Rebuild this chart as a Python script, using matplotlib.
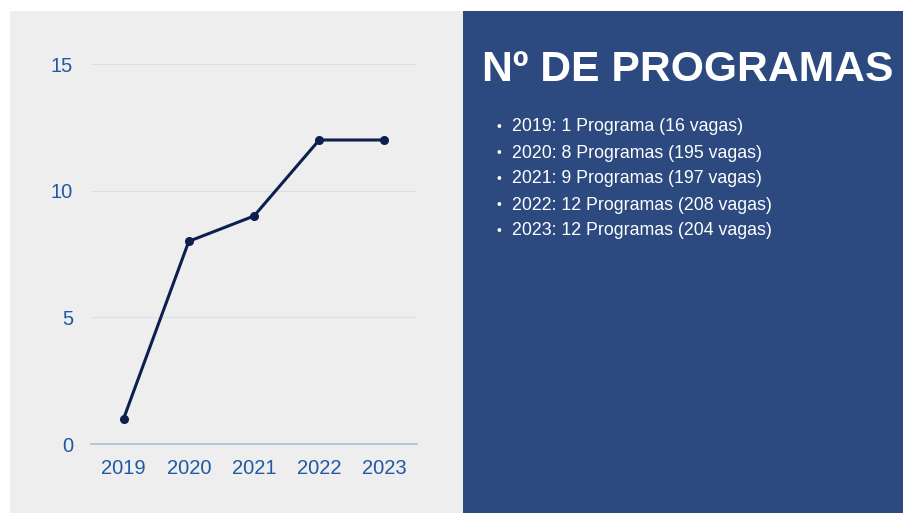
import matplotlib.pyplot as plt
from matplotlib.patches import Rectangle

plt.rcParams['font.family'] = ['Liberation Sans', 'DejaVu Sans']

years = ["2019", "2020", "2021", "2022", "2023"]
programas = [1, 8, 9, 12, 12]
vagas = [16, 195, 197, 208, 204]
y_ticks = [0, 5, 10, 15]

title = "Nº DE PROGRAMAS"

GRAY = "#eeeeee"
BLUE_BG = "#2c4a80"
LINE = "#0c1f4e"
TICK = "#1f58a3"

W, H = 904, 513

fig = plt.figure(figsize=(W / 100, H / 100), dpi=100)
fig.patch.set_facecolor("white")

# panels (behind the axes)
fig.patches.append(Rectangle((10 / W, 0), (463 - 10) / W, (H - 11) / H,
                             transform=fig.transFigure, facecolor=GRAY,
                             edgecolor="none", zorder=-10))
fig.patches.append(Rectangle((463 / W, 0), (903 - 463) / W, (H - 11) / H,
                             transform=fig.transFigure, facecolor=BLUE_BG,
                             edgecolor="none", zorder=-10))

ax = fig.add_axes([91 / W, (H - 444) / H, 326 / W, 380 / H])
ax.set_facecolor("none")

x = list(range(len(years)))
ax.plot(x, programas, color=LINE, linewidth=2.2, marker="o",
        markersize=5.5, zorder=3)

ax.set_xlim(-0.5, len(years) - 0.5)
ax.set_ylim(0, 15)
ax.set_xticks(x)
ax.set_xticklabels(years)
ax.set_yticks(y_ticks)

ax.tick_params(axis="both", length=0, colors=TICK, labelsize=14.5)
ax.tick_params(axis="x", pad=11)
ax.tick_params(axis="y", pad=13)

for s in ["top", "right", "left"]:
    ax.spines[s].set_visible(False)
ax.spines["bottom"].set_color("#a9bedb")
ax.spines["bottom"].set_linewidth(1.2)

ax.yaxis.grid(True, color="#d8e0ec", linewidth=0.8)
ax.set_axisbelow(True)

# right panel text
fig.text(482 / W, 1 - 70 / H, title, color="white", fontsize=30.7,
         fontweight="bold", va="center", ha="left")

line_y = [127, 153, 179, 205, 231]
for i, yr in enumerate(years):
    word = "Programa" if programas[i] == 1 else "Programas"
    label = f"{yr}: {programas[i]} {word} ({vagas[i]} vagas)"
    fig.text(497 / W, 1 - line_y[i] / H, "•", color="white", fontsize=10,
             va="center", ha="left")
    fig.text(512 / W, 1 - line_y[i] / H, label, color="white",
             fontsize=12.8, va="center", ha="left")

fig.savefig("out.png", dpi=100, facecolor=fig.get_facecolor())
